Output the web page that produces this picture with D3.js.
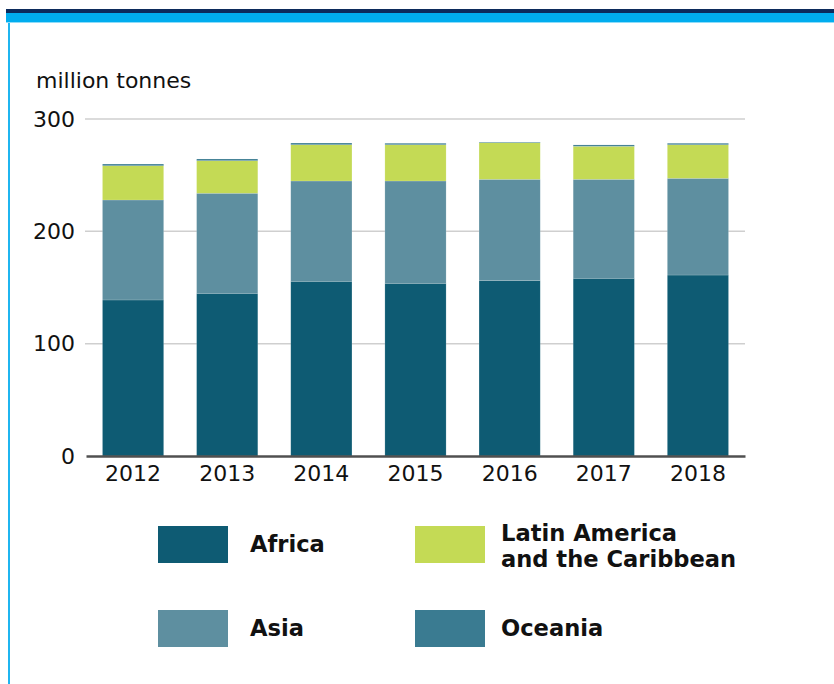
<!DOCTYPE html>
<html><head><meta charset="utf-8">
<script src="https://cdn.jsdelivr.net/npm/d3@7"></script>
<style>
html,body{margin:0;padding:0;background:#fff;}
svg{display:block;}
text{font-family:"DejaVu Sans","Noto Sans",sans-serif;}
</style></head>
<body>
<script>
const years = ["2012","2013","2014","2015","2016","2017","2018"];
const africa  = [138.9,144.8,155.5,153.7,156.1,158.2,161.1];
const asia    = [89.0,89.1,89.3,91.1,90.2,88.1,86.1];
const latin   = [30.5,29.0,32.3,32.3,32.6,29.4,29.9];
const oceania = [1.5,1.5,1.5,1.3,0.6,1.2,1.3];
const seriesNames = ["Africa","Asia","Latin America and the Caribbean","Oceania"];
const colors = ["#0e5b73","#5e8fa0","#c4da55","#3a7b91"];
const yTicks = [0,100,200,300];
const unitLabel = "million tonnes";

const W=834,H=684;
const svg=d3.select("body").append("svg").attr("width",W).attr("height",H);

// frame decoration
svg.append("rect").attr("x",6).attr("y",9).attr("width",W-6).attr("height",4).attr("fill","#0c2b5c");
svg.append("rect").attr("x",6).attr("y",13).attr("width",W-6).attr("height",10).attr("fill","#00adef");
svg.append("rect").attr("x",6).attr("y",22).attr("width",W-6).attr("height",1).attr("fill","#8fdcf8");
svg.append("rect").attr("x",8).attr("y",23).attr("width",2).attr("height",H-23).attr("fill","#1fb5f0");

const x=d3.scaleBand().domain(years).range([86,745]).paddingInner(0.35).paddingOuter(0.175);
const y=d3.scaleLinear().domain([0,300]).range([456,119]);

// grid
svg.append("g").selectAll("line").data(yTicks.filter(d=>d>0)).join("line")
  .attr("x1",85).attr("x2",745).attr("y1",d=>y(d)).attr("y2",d=>y(d))
  .attr("stroke","#cfcfcf").attr("stroke-width",1.5);

// stack
const rows=years.map((yr,i)=>({year:yr,Africa:africa[i],Asia:asia[i],"Latin America and the Caribbean":latin[i],Oceania:oceania[i]}));
const stack=d3.stack().keys(seriesNames)(rows);
svg.append("g").selectAll("g").data(stack).join("g")
  .attr("fill",(d,i)=>colors[i])
  .selectAll("rect").data(d=>d).join("rect")
  .attr("x",d=>x(d.data.year)).attr("width",x.bandwidth())
  .attr("y",d=>y(d[1])).attr("height",d=>y(d[0])-y(d[1]))
  .attr("stroke","#ffffff").attr("stroke-opacity",0.25).attr("stroke-width",0.6);

// baseline axis
const xAxis=svg.append("g").attr("transform","translate(0,456)").call(d3.axisBottom(x).tickSize(0).tickPadding(9));
xAxis.select(".domain").attr("stroke","#505050").attr("stroke-width",2.5);
xAxis.selectAll("text").attr("font-size",22).attr("font-family","DejaVu Sans").attr("fill","#111").attr("dy","0.72em");

const yAxis=svg.append("g").attr("transform","translate(75,0)").call(d3.axisLeft(y).tickValues(yTicks).tickSize(0).tickPadding(0));
yAxis.select(".domain").remove();
yAxis.selectAll("text").attr("font-size",22).attr("font-family","DejaVu Sans").attr("fill","#111");

svg.append("text").attr("x",36).attr("y",88).attr("font-size",22).attr("fill","#111").text(unitLabel);

// legend
const leg=[
  {i:0,sx:158,sy:526,tx:250,lines:["Africa"],ty:[552]},
  {i:2,sx:415,sy:526,tx:501,lines:["Latin America","and the Caribbean"],ty:[541,567]},
  {i:1,sx:158,sy:610,tx:250,lines:["Asia"],ty:[636]},
  {i:3,sx:415,sy:610,tx:501,lines:["Oceania"],ty:[636]}
];
const lg=svg.append("g");
leg.forEach(l=>{
  lg.append("rect").attr("x",l.sx).attr("y",l.sy).attr("width",70).attr("height",37).attr("fill",colors[l.i]);
  l.lines.forEach((t,k)=>lg.append("text").attr("x",l.tx).attr("y",l.ty[k]).attr("font-size",22.6).attr("font-weight","bold").attr("fill","#111").text(t));
});
</script>
</body></html>
